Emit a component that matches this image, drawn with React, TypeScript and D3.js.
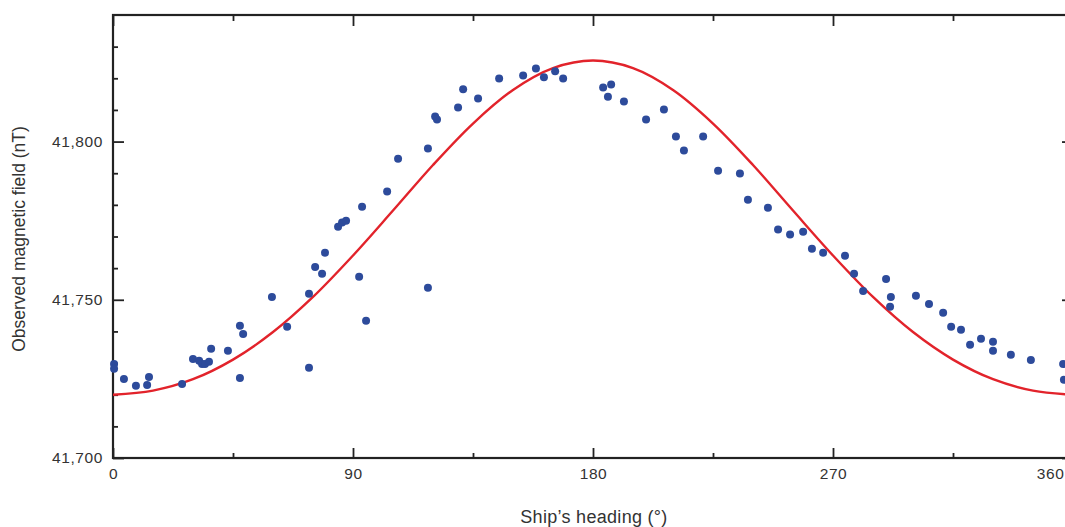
import React, { useRef, useEffect } from "react";
import * as d3 from "d3";

// observed points: ship's heading (deg) and field (nT)
const headings = [
  0.4, 0.4, 4.1, 8.6, 12.8, 13.5, 25.9, 30.0, 32.3, 33.4, 34.5, 36.0, 36.8, 43.1,
  47.6, 48.8, 47.6, 59.6, 65.3, 73.5, 73.5, 75.8, 78.4, 79.5, 84.4, 85.9, 87.4,
  92.3, 93.4, 94.9, 102.8, 106.9, 118.1, 118.1, 120.8, 121.5, 129.4, 131.3, 136.9,
  144.8, 153.8, 158.6, 161.6, 165.8, 168.8, 183.8, 186.8, 185.6, 191.6, 199.9,
  206.6, 211.1, 214.1, 221.3, 226.9, 235.1, 238.1, 245.6, 249.4, 253.9, 258.8,
  262.1, 266.3, 274.5, 277.9, 281.3, 289.9, 291.7, 291.4, 301.1, 306.0, 311.3,
  314.3, 318.0, 321.4, 325.5, 330.0, 330.0, 336.7, 344.2, 356.3, 356.6,
];
const fields = [
  41729.7, 41728.2, 41725.0, 41722.8, 41723.1, 41725.6, 41723.4, 41731.3, 41730.7,
  41729.7, 41729.7, 41730.4, 41734.5, 41733.9, 41741.8, 41739.2, 41725.3, 41750.9,
  41741.5, 41751.9, 41728.5, 41760.4, 41758.2, 41764.9, 41773.1, 41774.4, 41775.0,
  41757.3, 41779.4, 41743.4, 41784.2, 41794.6, 41797.8, 41753.8, 41807.9, 41807.0,
  41810.8, 41816.5, 41813.6, 41819.9, 41820.9, 41823.1, 41820.3, 41822.2, 41819.9,
  41817.1, 41818.0, 41814.2, 41812.7, 41807.0, 41810.1, 41801.6, 41797.2, 41801.6,
  41790.8, 41789.9, 41781.6, 41779.1, 41772.2, 41770.6, 41771.5, 41766.1, 41764.9,
  41763.9, 41758.2, 41752.8, 41756.6, 41750.9, 41747.8, 41751.3, 41748.7, 41745.9,
  41741.5, 41740.5, 41735.8, 41737.7, 41736.7, 41733.9, 41732.6, 41731.0, 41729.7,
  41724.7,
];

// red model curve, read every 15 degrees
const curveHeadings = [
  0, 15, 30, 45, 60, 75, 90, 105, 120, 135, 150, 165, 180, 195, 210, 225, 240, 255,
  270, 285, 300, 315, 330, 345, 360,
];
const curveFields = [
  41720.0, 41721.3, 41724.9, 41731.1, 41739.8, 41750.9, 41764.0, 41778.2, 41792.6,
  41805.7, 41816.3, 41823.2, 41825.6, 41823.2, 41816.3, 41805.7, 41792.6, 41778.2,
  41764.0, 41750.9, 41739.8, 41731.1, 41724.9, 41721.3, 41720.0,
];

const xMajor = [0, 90, 180, 270, 360];
const xMinor = [45, 135, 225, 315];
const yMajor = [41700, 41750, 41800];
const yMinor = [41710, 41720, 41730, 41740, 41760, 41770, 41780, 41790, 41810, 41820, 41830];

const W = 1065;
const H = 527;
const left = 113;
const right = 1073;
const top = 15;
const bottom = 458;
const font = "'Liberation Sans', Arial, sans-serif";

export default function App() {
  const axRef = useRef<SVGGElement>(null);

  const x = d3.scaleLinear().domain([0, 360]).range([left, right]);
  const y = d3.scaleLinear().domain([41700, 41840]).range([bottom, top]);

  const line = d3
    .line<number>()
    .x((d) => x(d))
    .y((_, i) => y(curveFields[i]))
    .curve(d3.curveCatmullRom);

  useEffect(() => {
    const g = d3.select(axRef.current);
    g.selectAll("*").remove();

    const style = (sel: any) => {
      sel.select(".domain").remove();
      sel.selectAll("line").attr("stroke", "#222").attr("stroke-width", 1.8);
      sel
        .selectAll("text")
        .attr("fill", "#333")
        .style("font-family", font)
        .style("font-size", "15.5px")
        .style("letter-spacing", "0.6px");
    };

    g.append("g")
      .attr("transform", `translate(${left},0)`)
      .call(d3.axisLeft(y).tickValues(yMajor).tickSize(-11).tickPadding(10).tickFormat(d3.format(",")))
      .call(style);
    g.append("g")
      .attr("transform", `translate(${left},0)`)
      .call(d3.axisLeft(y).tickValues(yMinor).tickSize(-5).tickFormat(() => ""))
      .call(style);
    g.append("g")
      .attr("transform", `translate(${right},0)`)
      .call(d3.axisRight(y).tickValues(yMajor).tickSize(-11).tickFormat(() => ""))
      .call(style);
    g.append("g")
      .attr("transform", `translate(${right},0)`)
      .call(d3.axisRight(y).tickValues(yMinor).tickSize(-5).tickFormat(() => ""))
      .call(style);
    const bx = g
      .append("g")
      .attr("transform", `translate(0,${bottom})`)
      .call(d3.axisBottom(x).tickValues(xMajor).tickSize(-10).tickPadding(10))
      .call(style);
    // last label sits against the window edge
    bx.selectAll("text")
      .filter((d: any) => d === 360)
      .attr("text-anchor", "end")
      .attr("x", W - 1 - x(360));
    g.append("g")
      .attr("transform", `translate(0,${bottom})`)
      .call(d3.axisBottom(x).tickValues(xMinor).tickSize(-5).tickFormat(() => ""))
      .call(style);
    g.append("g")
      .attr("transform", `translate(0,${top})`)
      .call(d3.axisTop(x).tickValues(xMajor).tickSize(-11).tickFormat(() => ""))
      .call(style);
    g.append("g")
      .attr("transform", `translate(0,${top})`)
      .call(d3.axisTop(x).tickValues(xMinor).tickSize(-6).tickFormat(() => ""))
      .call(style);
  }, []);

  return (
    <div style={{ position: "fixed", left: 0, top: 0 }}>
      <svg width={W} height={H} style={{ display: "block", background: "#fff" }}>
        <rect
          x={left}
          y={top}
          width={right - left}
          height={bottom - top}
          fill="none"
          stroke="#222"
          strokeWidth={2.2}
        />
        <g ref={axRef} />
        <path d={line(curveHeadings) || ""} fill="none" stroke="#e2232b" strokeWidth={2.4} />
        {headings.map((h, i) => (
          <circle key={i} cx={x(h)} cy={y(fields[i])} r={4} fill="#2d4b9b" />
        ))}
        <text
          x={594}
          y={523}
          textAnchor="middle"
          fill="#333"
          style={{ fontFamily: font, fontSize: "18px", letterSpacing: "0.3px" }}
        >
          Ship’s heading (°)
        </text>
        <text
          transform={`translate(25,239) rotate(-90)`}
          textAnchor="middle"
          fill="#333"
          style={{ fontFamily: font, fontSize: "17.5px" }}
        >
          Observed magnetic field (nT)
        </text>
      </svg>
    </div>
  );
}
